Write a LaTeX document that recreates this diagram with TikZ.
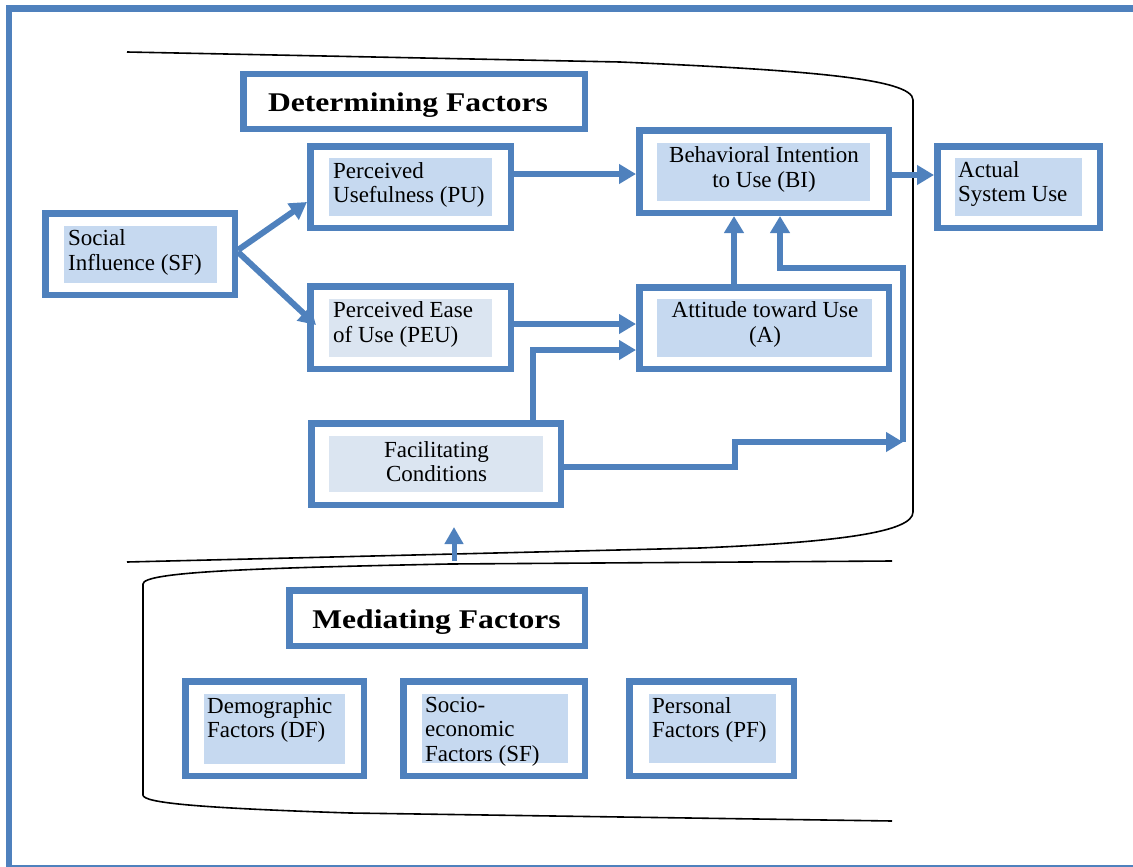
\documentclass[tikz,border=0pt]{standalone}
\usepackage{fontspec}
\setmainfont{Liberation Serif}
\newfontfamily\headfont[FakeStretch=1.17]{Liberation Serif}
\usetikzlibrary{arrows.meta,calc}
\definecolor{frameblue}{RGB}{79,129,189}
\definecolor{cellblue}{RGB}{198,217,240}
\definecolor{cellpale}{RGB}{219,229,241}

\begin{document}
\begin{tikzpicture}[x=1pt,y=-1pt,
  tbox/.style={draw=frameblue, line width=6.5pt, fill=white, inner sep=0pt},
  tcell/.style={fill=#1, inner sep=0pt},
  tcell/.default=cellblue,
  ltext/.style={inner sep=0pt, font=\fontsize{23}{24.5}\selectfont, align=left, anchor=west},
  ctext/.style={inner sep=0pt, font=\fontsize{23}{24.5}\selectfont, align=center},
  headtext/.style={inner sep=0pt, font=\headfont\bfseries\fontsize{27}{30}\selectfont, anchor=base},
  flow/.style={draw=frameblue, line width=6pt, -{Triangle[width=19pt,length=17pt]}},
  groupline/.style={draw=black, line width=1.6pt},
]
\useasboundingbox (0,0) rectangle (1133,867);
\clip (0,0) rectangle (1133,867);

% outer frame
\draw[frameblue, line width=6.5pt] (9,8.5) rectangle (1200,868);

% group outlines
\draw[groupline] (127,52) -- (620,62) .. controls (800,70) and (913,78) .. (913,100)
  -- (913,512) .. controls (913,532) and (840,542) .. (700,548) -- (127,562);
\draw[groupline] (892,561) -- (450,564) .. controls (250,568) and (143,572) .. (143,584)
  -- (143,795) .. controls (143,803) and (200,808) .. (350,813) -- (892,821);

% determining factors
\node[tbox, minimum width=341.5pt, minimum height=54.5pt] (dhead) at (414,101.5) {};
\node[headtext] (dhead-t) at (408,111) {Determining Factors};

\node[tbox, minimum width=189.5pt, minimum height=81.5pt] (sf) at (140,254) {};
\node[tcell, minimum width=153pt, minimum height=57pt] (sf-c) at (140.5,254.5) {};
\node[ltext] (sf-t) at (68,252.5) {Social\\Influence (SF)};

\node[tbox, minimum width=200.5pt, minimum height=81.5pt] (pu) at (410.5,187) {};
\node[tcell, minimum width=163pt, minimum height=58pt] (pu-c) at (410.5,187) {};
\node[ltext] (pu-t) at (333,185) {Perceived\\Usefulness (PU)};

\node[tbox, minimum width=200.5pt, minimum height=82.5pt] (peu) at (410.5,327.5) {};
\node[tcell=cellpale, minimum width=163pt, minimum height=58pt] (peu-c) at (410.5,328) {};
\node[ltext] (peu-t) at (333,324.5) {Perceived Ease\\of Use (PEU)};

\node[tbox, minimum width=249.5pt, minimum height=82.5pt] (bi) at (764,171.5) {};
\node[tcell, minimum width=213pt, minimum height=58pt] (bi-c) at (763.5,172) {};
\node[ctext] (bi-t) at (764,169.5) {Behavioral Intention\\to Use (BI)};

\node[tbox, minimum width=162.5pt, minimum height=81.5pt] (act) at (1018.5,187) {};
\node[tcell, minimum width=127pt, minimum height=58pt] (act-c) at (1018.5,187) {};
\node[ltext] (act-t) at (958,184) {Actual\\System Use};

\node[tbox, minimum width=249.5pt, minimum height=81.5pt] (att) at (764,328) {};
\node[tcell, minimum width=215pt, minimum height=58pt] (att-c) at (764.5,328) {};
\node[ctext] (att-t) at (765,324.5) {Attitude toward Use\\(A)};

\node[tbox, minimum width=249.5pt, minimum height=81.5pt] (fac) at (436,464) {};
\node[tcell=cellpale, minimum width=214pt, minimum height=56pt] (fac-c) at (436,464) {};
\node[ctext] (fac-t) at (436.5,461.5) {Facilitating\\Conditions};

% mediating factors
\node[tbox, minimum width=295.5pt, minimum height=55.5pt] (mhead) at (437,618) {};
\node[headtext] (mhead-t) at (436.5,628) {Mediating Factors};

\node[tbox, minimum width=178.5pt, minimum height=94.5pt] (df) at (274.5,728.5) {};
\node[tcell, minimum width=141pt, minimum height=70pt] (df-c) at (274.5,729) {};
\node[ltext] (df-t) at (207,720) {Demographic\\Factors (DF)};

\node[tbox, minimum width=181.5pt, minimum height=94.5pt] (se) at (494,728.5) {};
\node[tcell, minimum width=146pt, minimum height=69pt] (se-c) at (495,728.5) {};
\node[ltext] (se-t) at (425,731.5) {Socio-\\economic\\Factors (SF)};

\node[tbox, minimum width=164.5pt, minimum height=94.5pt] (pf) at (711.5,728.5) {};
\node[tcell, minimum width=127pt, minimum height=69pt] (pf-c) at (712.5,728.5) {};
\node[ltext] (pf-t) at (652,720) {Personal\\Factors (PF)};

% connectors
\draw[flow] ($(sf.east)+(0,-4)$) -- ($(pu.west)+(0,15)$);
\draw[flow] ($(sf.east)+(0,-2)$) -- ($(peu.west)+(9,-2.5)$);
\draw[flow] ($(pu.east)+(0,-13)$) -- ($(bi.west)+(0,2.5)$);
\draw[flow] ($(bi.east)+(0,3.5)$) -- ($(act.west)+(0,-12)$);
\draw[flow] ($(peu.east)+(0,-3.5)$) -- ($(att.west)+(0,-4)$);
\draw[flow] ($(fac.north)+(97,0)$) |- ($(att.west)+(0,22)$);
\draw[flow] ($(att.north)+(-30,0)$) -- ($(bi.south)+(-30,0)$);
\coordinate (fc-join) at (903,442);
\draw[flow] ($(fac.east)+(0,3)$) -- ++(171,0) |- (fc-join);
\draw[flow] (fc-join) -- ++(0,-174) -| ($(bi.south)+(16,0)$);

\coordinate (m-base) at (454,561);
\coordinate (m-tip) at (454,527);
\draw[flow, line width=5pt, -{Triangle[width=18pt,length=17pt]}] (m-base) -- (m-tip);
\end{tikzpicture}
\end{document}
